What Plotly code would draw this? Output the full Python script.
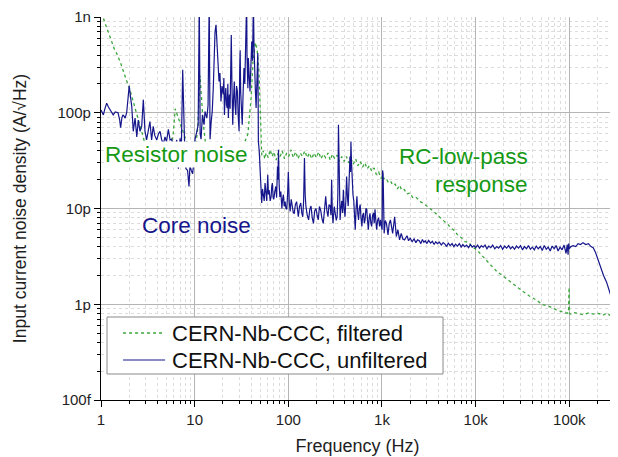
import numpy as np
import plotly.graph_objects as go

# ---------------- data ----------------
freq_unfiltered_hz = [
    1.0, 1.03, 1.06, 1.1, 1.15, 1.2, 1.25, 1.3, 1.35, 1.42, 1.52, 1.58, 1.62, 1.67, 1.71, 1.76, 1.81, 1.88, 1.95,
    2.0, 2.06, 2.13, 2.21, 2.31, 2.41, 2.5, 2.61, 2.72, 2.83, 2.95, 3.07, 3.2, 3.33, 3.47, 3.61, 3.75, 3.94,
    4.1, 4.27, 4.45, 4.65, 4.82, 5.0, 5.24, 5.46, 5.69, 5.9, 6.1, 6.44, 6.7, 6.98, 7.2, 7.45, 7.7, 7.9, 8.1,
    8.4, 8.7, 8.9, 9.2, 9.5, 9.8, 10.1, 10.55, 10.9, 11.2, 11.45, 11.7, 12.1, 12.6, 12.9, 13.5, 13.9, 14.3,
    14.6, 15.0, 15.4, 15.8, 16.2, 16.5, 16.9, 17.2, 17.5, 17.8, 18.2, 18.6, 19.1, 19.6, 20.2, 20.5, 20.8, 21.1,
    21.5, 21.9, 22.3, 22.6, 22.9, 23.2, 23.5, 23.9, 24.2, 24.6, 25.0, 25.5, 26.0, 26.5, 27.0, 27.5, 28.0, 28.6,
    29.2, 29.8, 30.3, 30.6, 31.0, 31.6, 32.2, 32.9, 33.6, 34.3, 35.0, 35.9, 36.2, 36.6, 37.0, 37.4, 38.2, 39.0,
    39.8, 40.7, 41.5, 42.4, 43.0, 43.5, 44.4, 45.3, 45.6, 46.0, 46.6, 47.2, 47.6, 47.9, 48.9, 49.9,
    51.2, 52.0, 53.0, 54.2, 55.3, 56.4, 57.6, 58.8, 59.5, 60.3, 61.3, 62.4, 64.0, 65.5, 66.5, 67.6, 68.8, 70.0,
    71.7, 73.5, 75.0, 76.6, 77.5, 78.5, 79.8, 81.2, 83.2, 85.3, 86.9, 88.5, 90.4, 92.4, 94.3, 96.3, 98.2, 100,
    102.2, 104.5, 107.4, 110.4, 113, 115.6, 119, 122.6, 125.2, 127.8, 131.7, 135.8, 139.2, 142.7, 145.6, 148.7,
    151.3, 154, 159.3, 164.7, 169.6, 174.7, 180, 185.5, 191.4, 197.4, 203, 208.6, 215, 222, 229, 236, 243,
    250.6, 258, 265, 272, 280, 285, 290, 295, 300, 309, 318.6, 325, 332, 338, 343, 350, 357, 364, 372, 380,
    387, 395, 403, 411, 419, 428, 436, 446, 455, 461, 466, 473, 480, 490, 500, 509, 518, 529, 540, 551, 562,
    573, 585, 597, 610, 622, 635, 647, 660, 673, 687, 701, 715, 730, 745, 761, 777, 793, 810, 826, 842, 860,
    877, 898, 920, 943, 967, 985, 1003,
    1015, 1028, 1054, 1085, 1116, 1160, 1195, 1230, 1300, 1365, 1422, 1480, 1540, 1605, 1670, 1740, 1850, 1920,
    2000, 2100, 2200, 2300, 2400, 2500, 2600, 2700, 2800, 2900, 3000, 3150, 3300, 3450, 3600, 3750, 3900,
    4100, 4300, 4500, 4700, 4900, 5100, 5350, 5600, 5850, 6100, 6400, 6700, 7000, 7300, 7650, 8000, 8400,
    8800, 9200, 9600, 10000, 10500, 11000, 11500, 12000, 12600, 13200, 13800, 14500, 15200, 16000, 16800,
    17600, 18500, 19400, 20400, 21400, 22500, 23600, 24800, 26000, 27300, 28700, 30100, 31600, 33200,
    34900, 36600, 38400, 40300, 42300, 44400, 46600, 49000, 51400, 54000, 56700, 59500, 62500, 65600,
    68900, 72300, 75900, 79700, 83700, 87900, 92300, 95000, 97000, 98500, 100000,
    104000, 110000, 117000, 124000, 132000, 140000, 150000, 160000, 170000, 180000,
    190000, 200000, 215000, 232000, 250000, 270000, 285000, 300000,
]
noise_unfiltered_pA = [
    107, 100, 95, 110, 126, 115, 107, 100, 95, 102, 100, 85, 70, 88, 95, 92, 88, 100, 150,
    191, 150, 116, 64, 88, 56, 84, 64, 72, 137, 64, 52, 66, 81, 52, 72, 58, 52,
    60, 64, 52, 48, 56, 50, 67, 52, 53, 40, 35, 52, 26, 54, 40, 281, 52, 30, 26,
    25, 17, 28, 25, 23, 30, 53, 64, 75, 1500, 60, 53, 95, 75, 103, 88, 120, 1500,
    53, 80, 103, 180, 474, 700, 830, 600, 474, 300, 212, 260, 131, 190, 155, 230, 95, 140,
    181, 120, 112, 200, 88, 130, 155, 110, 300, 650, 200, 75, 140, 212, 120, 95, 190, 167,
    90, 64, 300, 450, 167, 110, 75, 160, 293, 200, 514, 1500, 400, 250, 180, 373, 230, 167,
    300, 556, 350, 1500, 500, 249, 180, 112, 160, 212, 300, 420, 150, 50, 40, 28.6,
    14.7, 11.4, 16, 13.9, 12, 18.4, 14, 12, 16, 22.5, 14, 15.6, 12, 13.2, 17, 18.4, 13, 12.5,
    15, 17, 13, 27.5, 20, 41, 18, 13.2, 15, 10, 12.5, 14, 10.5, 11.8, 10, 9.8, 14, 24,
    12, 9.3, 12.5, 10.9, 9, 8.9, 11, 11.8, 9.5, 8.2, 10.5, 11.4, 9, 8.2, 12, 33.6,
    14, 10.6, 8.5, 7.6, 9.8, 10.6, 8, 7.0, 9.5, 10, 8.5, 7.6, 10.5, 9.5, 7.8, 7.0, 9.5,
    13.4, 9.5, 8.2, 11, 10.6, 8.5, 20, 9, 7.0, 10.5, 9, 7.5, 8.2, 14, 75, 12, 7.6, 10, 12, 9,
    15.7, 10, 8.2, 12, 21.6, 13, 10.6, 20, 35, 24, 50, 30, 18.4, 14, 12, 8, 6.0, 10, 13.4, 9, 7.6,
    10, 11, 8, 6.5, 8.5, 9, 7, 7.6, 10, 9.8, 7.5, 6.0, 8, 8.9, 7, 6.5, 8.5, 9, 7, 9.8, 7.5,
    6.0, 7.5, 8, 6.5, 7.6, 6.5, 6.0,
    25, 23, 5.5, 7.5, 7.0, 5.3, 7, 7.6, 5.5, 8.2, 5.1, 6, 4.7, 5.5, 4.8, 4.7, 5.2, 4.6,
    4.9, 4.5, 4.8, 4.4, 4.7, 4.6, 4.3, 4.75, 4.45, 4.6, 4.3, 4.65, 4.35, 4.55, 4.2, 4.5, 4.3,
    4.45, 4.15, 4.4, 4.25, 4.0, 4.35, 4.1, 4.3, 4.0, 4.25, 4.05, 4.3, 3.95, 4.2, 4.0, 4.15, 3.9,
    4.2, 3.95, 4.1, 3.9, 4.15, 3.85, 4.1, 3.95, 4.15, 3.8, 4.05, 3.9, 4.15, 3.8, 4.0,
    3.85, 4.1, 3.75, 4.05, 3.85, 4.1, 3.8, 4.0, 3.75, 4.05, 3.85, 4.1, 3.7, 4.0,
    3.8, 4.1, 3.75, 3.95, 3.7, 4.05, 3.8, 4.0, 3.65, 4.1, 3.75, 3.95, 3.6, 4.05,
    3.8, 4.1, 3.6, 3.95, 3.7, 4.15, 3.4, 4.2, 3.3, 4.3, 3.8,
    4.0, 4.1, 4.0, 4.3, 4.2, 4.4, 4.2, 4.3, 4.0, 3.9,
    3.5, 3.0, 2.5, 2.0, 1.7, 1.35, 1.15, 0.97,
]

freq_filtered_hz = [
    1.0, 1.05, 1.12, 1.2, 1.28, 1.38, 1.5, 1.62, 1.75, 1.88, 2.0, 2.12, 2.25, 2.4, 2.55, 2.7, 2.85, 3.0,
    3.3, 3.7, 4.2, 4.8, 5.4, 5.9, 6.2, 6.5, 6.9, 7.4, 7.9, 8.4, 8.8, 9.4, 10.2, 10.8, 11.1, 11.4, 11.8,
    12.3, 13, 14, 15.5, 17, 19, 21, 24, 27, 30, 33, 37, 40, 42, 44.5, 46.5, 48.5, 50, 51, 52,
    54, 56, 58, 61, 64, 67, 70, 74, 78, 82, 86, 91, 96, 101, 107, 113, 120, 127, 134, 142, 150, 159,
    168, 178, 188, 199, 211, 223, 236, 250, 265, 280, 296, 313, 332, 351, 372, 394, 417, 441, 467, 494,
    523, 554, 586, 620, 656, 695, 735, 778, 824, 872, 923, 977, 1000, 1034, 1095, 1160, 1230, 1300,
    1380, 1460, 1540, 1630, 1730, 1840, 1990, 2150, 2330, 2560, 2800, 3050, 3300, 3600, 3900, 4250,
    4650, 5050, 5480, 5950, 6500, 7060, 7700, 8400, 9100, 10300, 11600, 13100, 14800, 16800, 19500,
    23200, 27000, 32000, 37500, 44300, 52000, 60900, 72000, 84100, 91000, 97900, 99500, 100500, 104000,
    112000, 125000, 140000, 160000, 183000, 205000, 230000, 253000, 275000, 300000,
]
noise_filtered_pA = [
    1100, 1000, 830, 700, 580, 470, 400, 330, 260, 215, 185, 150, 120, 100, 80, 62, 52, 45,
    42, 38, 40, 37, 40, 60, 110, 95, 80, 65, 55, 48, 40, 38, 42, 70, 150, 245, 150,
    80, 50, 45, 42, 48, 40, 44, 38, 42, 39, 45, 60, 140, 350, 540, 450, 280, 120, 45, 36,
    40, 33, 38, 34, 41, 35, 39, 32, 38, 35, 40, 33, 38, 35, 41, 34, 39, 33, 38, 35, 40, 34,
    38, 33, 38, 34, 39, 33, 37, 34, 38, 32, 37, 33, 36, 31, 35, 31, 35, 30, 33, 29,
    33, 28, 31, 27, 30, 26, 28, 24.5, 26.5, 22.5, 24, 20.5, 22, 20.5, 21, 19, 19.5, 17.5,
    18, 16, 17.5, 15.5, 15.8, 14.2, 14.5, 12.8, 13.0, 11.8, 11.2, 10.6, 9.9, 9.2, 8.6, 8.0,
    7.4, 6.8, 6.2, 5.9, 5.2, 4.95, 4.5, 4.45, 4.0, 3.7, 3.25, 2.85, 2.55, 2.2, 1.98,
    1.73, 1.52, 1.36, 1.22, 1.11, 0.99, 0.95, 0.88, 0.84, 0.81, 0.81, 1.5, 0.8, 0.79,
    0.82, 0.8, 0.78, 0.81, 0.79, 0.8, 0.77, 0.81, 0.76, 0.78,
]
assert len(freq_unfiltered_hz) == len(noise_unfiltered_pA)
assert len(freq_filtered_hz) == len(noise_filtered_pA)

series_names = ["CERN-Nb-CCC, filtered", "CERN-Nb-CCC, unfiltered"]
x_tick_vals = [1, 10, 100, 1e3, 1e4, 1e5]
x_tick_text = ["1", "10", "100", "1k", "10k", "100k"]
y_tick_vals = [1e-13, 1e-12, 1e-11, 1e-10, 1e-9]
y_tick_text = ["100f", "1p", "10p", "100p", "1n"]

# ---------------- figure ----------------
BLUE = "#16168c"
GREEN_LINE = "#3aa63a"
GREEN_TEXT = "#159915"
FONT = "Arial, Liberation Sans, sans-serif"
TXT = "#1e1e1e"

fig = go.Figure()
fig.add_trace(go.Scatter(
    x=freq_filtered_hz, y=[v * 1e-12 for v in noise_filtered_pA],
    mode="lines", name=series_names[0], showlegend=False,
    line=dict(color=GREEN_LINE, width=1.3, dash="dot"),
))
fig.add_trace(go.Scatter(
    x=freq_unfiltered_hz, y=[v * 1e-12 for v in noise_unfiltered_pA],
    mode="lines", name=series_names[1], showlegend=False,
    line=dict(color=BLUE, width=1.2),
))

minor_x = [m * 10 ** d for d in range(0, 6) for m in range(2, 10) if m * 10 ** d <= 3e5]
minor_y = [m * 10.0 ** d for d in range(-13, -9) for m in range(2, 10)]

axis_common = dict(
    type="log", showline=True, linecolor="black", linewidth=1.3,
    ticks="outside", ticklen=6, tickwidth=1.2, tickcolor="black",
    showgrid=True, gridcolor="#b5b5b5", gridwidth=1, zeroline=False,
    tickfont=dict(family=FONT, size=15, color=TXT), automargin=False,
)

fig.update_xaxes(
    **axis_common,
    range=[0, np.log10(3e5)],
    tickmode="array", tickvals=x_tick_vals, ticktext=x_tick_text,
    minor=dict(tickmode="array", tickvals=minor_x, ticks="outside", ticklen=3,
               tickcolor="black", showgrid=True, gridcolor="#dcdcdc", griddash="dot"),
    title=dict(text="Frequency (Hz)", font=dict(family=FONT, size=18, color=TXT), standoff=12),
)
fig.update_yaxes(
    **axis_common,
    range=[-13, -9],
    tickmode="array", tickvals=y_tick_vals, ticktext=y_tick_text,
    minor=dict(tickmode="array", tickvals=minor_y, ticks="outside", ticklen=3,
               tickcolor="black", showgrid=True, gridcolor="#dcdcdc", griddash="dot"),
    title=dict(text="Input current noise density (A/\u221aHz)",
               font=dict(family=FONT, size=17.5, color=TXT), standoff=26),
)

ann_font = 22.5
fig.add_annotation(x=np.log10(1.08), y=np.log10(3.64e-11), text="Resistor noise",
                   xanchor="left", yanchor="middle", showarrow=False, bgcolor="white",
                   borderpad=0, font=dict(family=FONT, size=ann_font, color=GREEN_TEXT))
fig.add_annotation(x=np.log10(2.61), y=np.log10(6.59e-12), text="Core noise",
                   xanchor="left", yanchor="middle", showarrow=False,
                   font=dict(family=FONT, size=ann_font, color=BLUE))
fig.add_annotation(x=np.log10(38300), y=np.log10(3.47e-11), text="RC-low-pass",
                   xanchor="right", yanchor="middle", showarrow=False,
                   font=dict(family=FONT, size=ann_font, color=GREEN_TEXT))
fig.add_annotation(x=np.log10(38300), y=np.log10(1.77e-11), text="response",
                   xanchor="right", yanchor="middle", showarrow=False,
                   font=dict(family=FONT, size=ann_font, color=GREEN_TEXT))

# legend box (drawn in plot-paper coordinates)
fig.add_shape(type="rect", xref="paper", yref="paper", x0=0.0117, x1=0.6667, y0=0.0679, y1=0.2167,
              line=dict(color="#8a8a8a", width=1), fillcolor="white", layer="above")
leg_rows = [0.1749, 0.1044]
leg_styles = [dict(color=GREEN_LINE, width=1.3, dash="dot"), dict(color=BLUE, width=1.2)]
for name, yr, st in zip(series_names, leg_rows, leg_styles):
    fig.add_shape(type="line", xref="paper", yref="paper", x0=0.043, x1=0.125, y0=yr, y1=yr,
                  line=st, layer="above")
    fig.add_annotation(xref="paper", yref="paper", x=0.1345, y=yr, text=name, showarrow=False,
                       xanchor="left", yanchor="middle",
                       font=dict(family=FONT, size=22, color="#111"))

fig.update_layout(
    width=610, height=449,
    margin=dict(l=93, r=4, t=9, b=57),
    paper_bgcolor="white", plot_bgcolor="white",
    font=dict(family=FONT, color=TXT),
    showlegend=False,
)

fig.write_html("out.html")
